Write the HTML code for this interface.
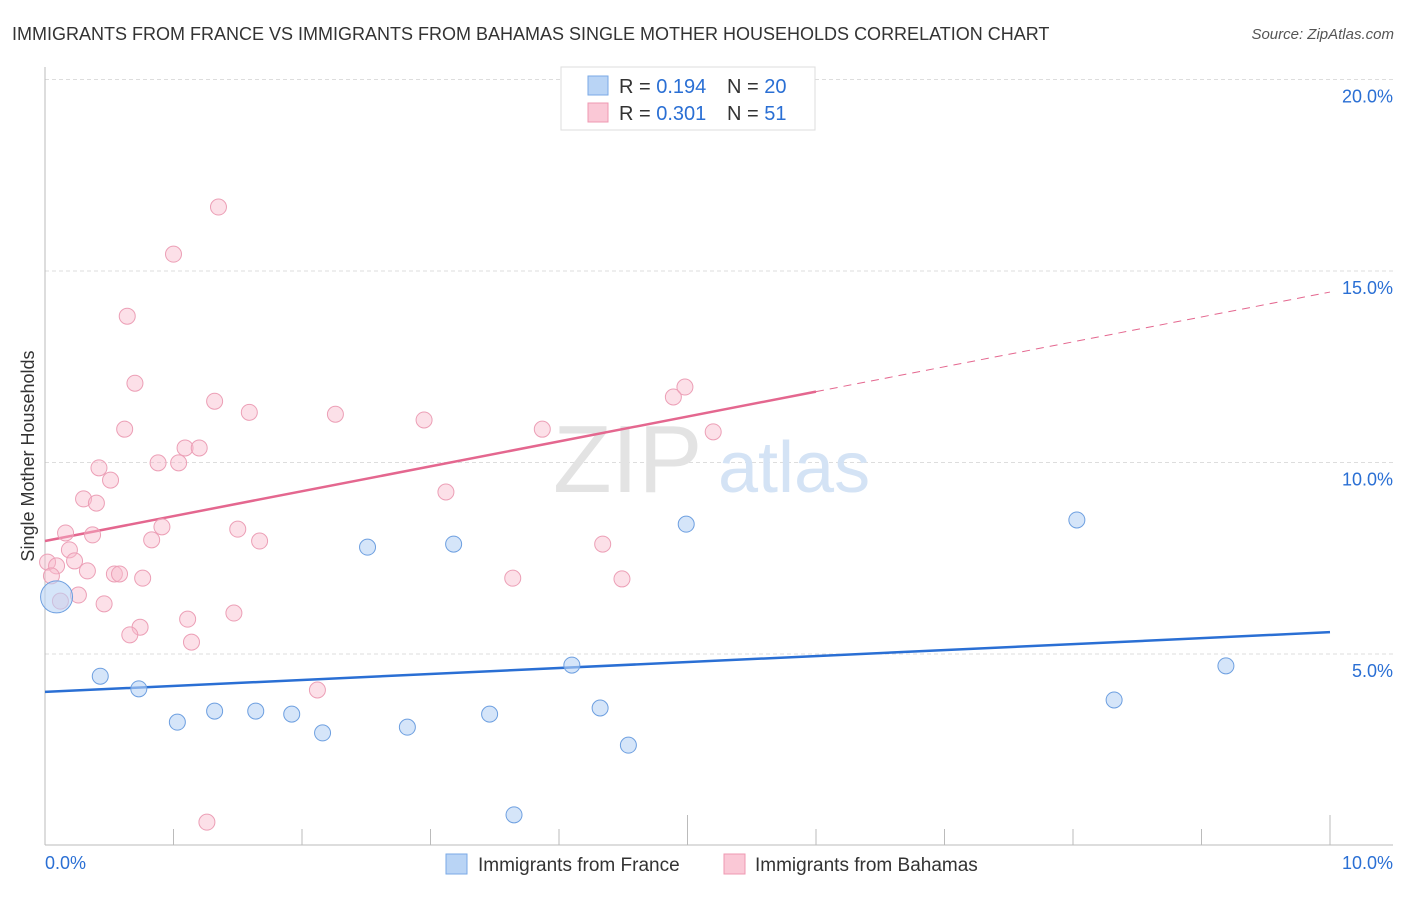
<!DOCTYPE html>
<html><head><meta charset="utf-8"><style>
body{margin:0;background:#fff;font-family:"Liberation Sans",sans-serif;}
svg text{font-family:"Liberation Sans",sans-serif;}
</style></head><body>
<svg id="chart" width="1406" height="892" viewBox="0 0 1406 892" xmlns="http://www.w3.org/2000/svg">
<text x="12" y="40" font-size="18" fill="#333">IMMIGRANTS FROM FRANCE VS IMMIGRANTS FROM BAHAMAS SINGLE MOTHER HOUSEHOLDS CORRELATION CHART</text>
<text x="1394" y="39" font-size="15" fill="#555" font-style="italic" text-anchor="end">Source: ZipAtlas.com</text>
<g id="grid"></g>
<g>
<text x="553" y="492" font-size="96" font-family="Liberation Serif" fill="#e3e3e3">ZIP</text>
<text x="718" y="492" font-size="72" fill="#d4e3f5">atlas</text>
</g>
<text transform="translate(34,456) rotate(-90)" font-size="18" fill="#333" text-anchor="middle">Single Mother Households</text>
<g id="lines"></g>
<g id="pts"></g>
<g>
<rect x="561" y="67" width="254" height="63" fill="#fff" stroke="#ddd"/>
<rect x="588" y="76" width="20" height="19" fill="#b9d4f5" stroke="#7aa9e6"/>
<rect x="588" y="103" width="20" height="19" fill="#fac8d6" stroke="#ef98b2"/>
<text x="619" y="93" font-size="20" fill="#333">R = <tspan fill="#2a6fd4">0.194</tspan></text>
<text x="727" y="93" font-size="20" fill="#333">N = <tspan fill="#2a6fd4">20</tspan></text>
<text x="619" y="120" font-size="20" fill="#333">R = <tspan fill="#2a6fd4">0.301</tspan></text>
<text x="727" y="120" font-size="20" fill="#333">N = <tspan fill="#2a6fd4"> 51</tspan></text>
</g>
<g>
<rect x="446" y="854" width="21" height="20" fill="#b9d4f5" stroke="#7aa9e6"/>
<text x="478" y="871" font-size="19" fill="#333">Immigrants from France</text>
<rect x="724" y="854" width="21" height="20" fill="#fac8d6" stroke="#ef98b2"/>
<text x="755" y="871" font-size="19" fill="#333">Immigrants from Bahamas</text>
</g>
</svg>
<script>
const yTicks=[5,10,15,20];
const yTickLabels=["5.0%","10.0%","15.0%","20.0%"];
const xTickLabels=["0.0%","10.0%"];
const franceX=[0.09,0.43,0.73,1.03,1.32,1.64,1.92,2.16,2.51,3.18,2.82,3.46,4.10,4.32,4.54,4.99,3.65,8.03,8.32,9.19];
const franceY=[6.49,4.42,4.09,3.22,3.51,3.51,3.43,2.94,7.79,7.87,3.09,3.43,4.71,3.59,2.62,8.39,0.80,8.50,3.80,4.69];
const bahamasX=[4.15,1.35,1.00,0.64,0.70,1.32,1.59,2.26,2.95,0.62,3.87,1.09,1.20,0.88,1.04,0.42,0.51,0.30,0.40,3.12,4.89,4.98,5.20,0.91,0.16,1.50,0.37,0.83,1.67,0.19,4.34,0.02,0.09,0.23,0.33,0.54,0.58,0.76,3.64,4.49,0.05,0.26,0.12,0.46,1.47,1.11,0.74,0.66,1.14,2.12,1.26];
const bahamasY=[19.07,16.67,15.44,13.82,12.07,11.60,11.31,11.26,11.11,10.87,10.87,10.38,10.38,9.99,9.99,9.86,9.54,9.05,8.94,9.23,11.71,11.97,10.80,8.32,8.16,8.26,8.11,7.98,7.95,7.72,7.87,7.40,7.30,7.43,7.17,7.09,7.09,6.98,6.98,6.96,7.04,6.54,6.38,6.31,6.07,5.91,5.70,5.50,5.31,4.06,0.61];
const franceTrend=[4.01,5.57];
const bahamasTrend=[7.95,14.45];
const NS="http://www.w3.org/2000/svg";
const X=v=>45+v*128.5, Y=v=>845.5-v*38.3;
function mk(t,a,p){const e=document.createElementNS(NS,t);for(const k in a)e.setAttribute(k,a[k]);p.appendChild(e);return e;}
const grid=document.getElementById('grid');
yTicks.forEach((t,i)=>{
 const l=mk('line',{x1:45,x2:1393,y1:Y(t),y2:Y(t),stroke:'#ddd','stroke-dasharray':'4,3'},grid);
 
 
 const tx=mk('text',{x:1393,y:Y(t)+23,'font-size':18,fill:'#2a6fd4','text-anchor':'end'},grid);
 tx.textContent=yTickLabels[i];
 
 
});
const ax=mk('line',{x1:45,x2:45,y1:67,y2:845,stroke:'#bbb'},grid);


const bx=mk('line',{x1:45,x2:1393,y1:845,y2:845,stroke:'#bbb'},grid);


for(let i=1;i<=10;i++){
 const h=(i==5||i==10)?30:16;
 const tk=mk('line',{x1:X(i),x2:X(i),y1:845-h,y2:845,stroke:'#bbb'},grid);
 
 
}
[[0,'start',45],[10,'end',1393]].forEach((d,i)=>{
 const tx=mk('text',{x:d[2],y:869,'font-size':18,fill:'#2a6fd4','text-anchor':d[1]},grid);
 tx.textContent=xTickLabels[i];
 
 
});
const lines=document.getElementById('lines');
const bl=mk('line',{x1:X(0),y1:Y(franceTrend[0]),x2:X(10),y2:Y(franceTrend[1]),stroke:'#2a6fd4','stroke-width':2.5},lines);


const pb=v=>bahamasTrend[0]+(bahamasTrend[1]-bahamasTrend[0])*v/10;
const pl=mk('line',{x1:X(0),y1:Y(pb(0)),x2:X(6),y2:Y(pb(6)),stroke:'#e4678f','stroke-width':2.5},lines);


const pd=mk('line',{x1:X(6),y1:Y(pb(6)),x2:X(10),y2:Y(pb(10)),stroke:'#e4678f','stroke-width':1,'stroke-dasharray':'8,6'},lines);


const pts=document.getElementById('pts');
bahamasX.forEach((x,i)=>{
 const c=mk('circle',{cx:X(x),cy:Y(bahamasY[i]),r:8,fill:'rgba(248,187,205,0.45)',stroke:'#ec9fb6','stroke-width':1},pts);
 
 
});
franceX.forEach((x,i)=>{
 const c=mk('circle',{cx:X(x),cy:Y(franceY[i]),r:i==0?16:8,fill:'rgba(185,212,245,0.6)',stroke:'#6d9fe0','stroke-width':1},pts);
 
 
});
</script>
</body></html>
